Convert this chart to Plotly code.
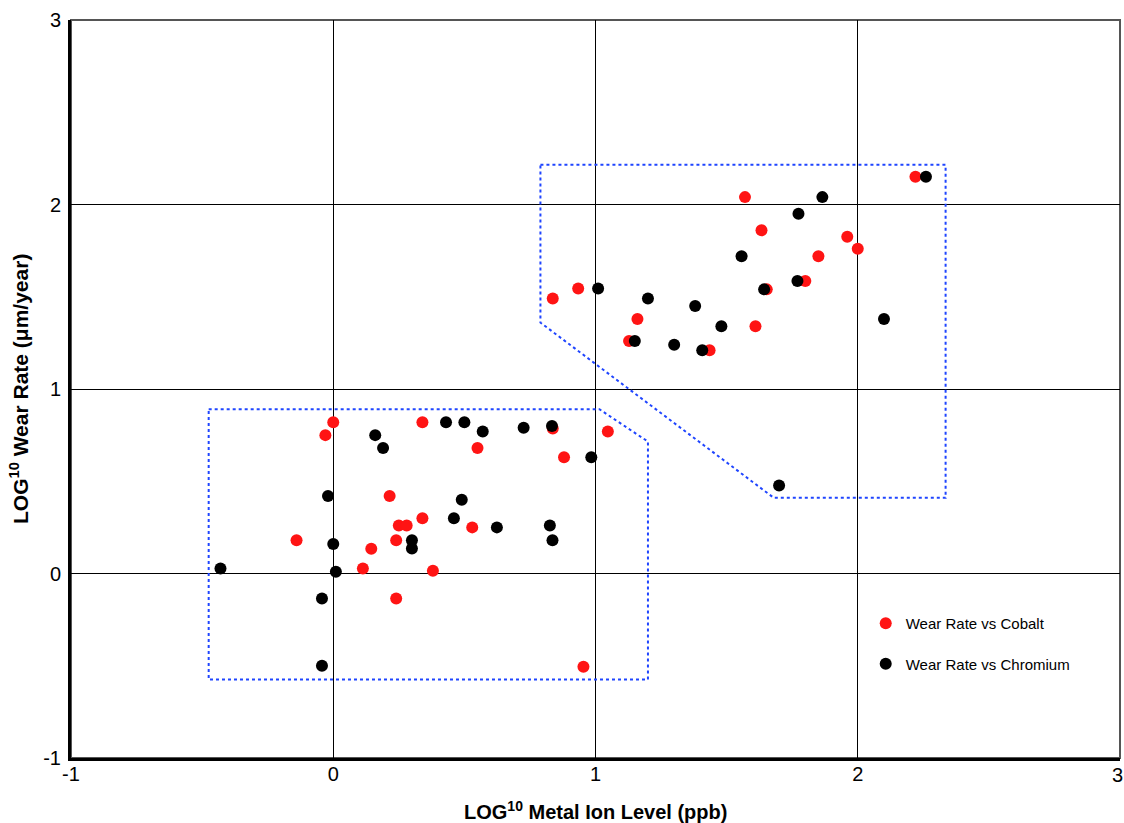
import plotly.graph_objects as go

# Wear Rate vs Cobalt (log10 metal ion level, log10 wear rate)
cobalt_x = [0.00, -0.03, 0.34, 0.55, 0.215, 0.34, 0.25, 0.28, 0.53, -0.14, 0.24, 0.145,
            0.113, 0.38, 0.24, 0.837, 1.047, 0.88, 0.954,
            2.22, 1.57, 1.633, 1.96, 2.00, 1.85, 1.80, 1.653, 0.837, 0.934, 1.16, 1.61,
            1.128, 1.435]
cobalt_y = [0.82, 0.75, 0.82, 0.68, 0.42, 0.30, 0.26, 0.26, 0.25, 0.18, 0.18, 0.134,
            0.027, 0.015, -0.135, 0.786, 0.77, 0.63, -0.506,
            2.15, 2.04, 1.86, 1.825, 1.76, 1.72, 1.585, 1.54, 1.49, 1.545, 1.38, 1.34,
            1.26, 1.21]

# Wear Rate vs Chromium
chromium_x = [0.16, 0.19, 0.43, 0.50, 0.57, -0.02, 0.49, 0.46, 0.00, 0.30, 0.30, -0.43,
              0.01, -0.043, -0.043, 0.726, 0.834, 0.984, 0.624, 0.826, 0.836,
              2.26, 1.865, 1.774, 1.557, 1.77, 1.643, 1.01, 1.20, 1.38, 1.48, 2.10, 1.15,
              1.30, 1.407, 1.70]
chromium_y = [0.75, 0.68, 0.82, 0.82, 0.77, 0.42, 0.40, 0.30, 0.16, 0.18, 0.135, 0.027,
              0.01, -0.135, -0.50, 0.79, 0.80, 0.63, 0.25, 0.26, 0.18,
              2.15, 2.04, 1.95, 1.72, 1.585, 1.54, 1.545, 1.49, 1.45, 1.34, 1.38, 1.26,
              1.24, 1.21, 0.477]

# Dashed grouping regions (data coordinates)
low_region_x = [-0.475, 1.015, 1.20, 1.20, -0.475, -0.475]
low_region_y = [0.89, 0.89, 0.715, -0.575, -0.575, 0.89]
high_region_x = [0.79, 2.335, 2.335, 1.68, 0.79, 0.79]
high_region_y = [2.215, 2.215, 0.41, 0.41, 1.36, 2.215]

x_ticks = [-1, 0, 1, 2, 3]
y_ticks = [-1, 0, 1, 2, 3]

x_title = "<b>LOG<sup>10</sup> Metal Ion Level (ppb)</b>"
y_title = "<b>LOG<sup>10</sup> Wear Rate (μm/year)</b>"

FONT = "Liberation Sans, Arial, sans-serif"

fig = go.Figure()

for rx, ry in [(low_region_x, low_region_y), (high_region_x, high_region_y)]:
    fig.add_trace(go.Scatter(x=rx, y=ry, mode="lines", showlegend=False, hoverinfo="skip",
                             line=dict(color="#1f45ff", width=2, dash="dot")))

fig.add_trace(go.Scatter(x=cobalt_x, y=cobalt_y, mode="markers", name="Wear Rate vs Cobalt",
                         legendgroup="a",
                         marker=dict(color="#ff1414", size=12, line=dict(width=0))))
fig.add_trace(go.Scatter(x=chromium_x, y=chromium_y, mode="markers", name="Wear Rate vs Chromium",
                         legendgroup="b",
                         marker=dict(color="#000000", size=12, line=dict(width=0))))

# thin grey frame (top / right)
fig.add_shape(type="rect", xref="paper", yref="paper", x0=0, y0=0, x1=1, y1=1,
              line=dict(color="#555555", width=2), layer="below")

axis_common = dict(showgrid=True, gridcolor="#000000", gridwidth=1, zeroline=False,
                   showline=True, linecolor="#000000", linewidth=3, ticks="",
                   automargin=False,
                   tickfont=dict(family=FONT, size=20, color="#000000"))

fig.update_layout(
    width=1124, height=823,
    margin=dict(l=71, r=4, t=20, b=65, autoexpand=False),
    paper_bgcolor="white", plot_bgcolor="white",
    xaxis=dict(range=[-1, 3], tickvals=x_ticks[:-1], ticktext=[str(v) for v in x_ticks[:-1]],
               ticklabelstandoff=-4, **axis_common),
    yaxis=dict(range=[-1, 3], tickvals=y_ticks, ticktext=[str(v) for v in y_ticks],
               ticklabelstandoff=3, **axis_common),
    legend=dict(x=0.7576, y=0.2046, xanchor="left", yanchor="top",
                font=dict(family=FONT, size=15, color="#000000"),
                bgcolor="rgba(0,0,0,0)", tracegroupgap=18),
    showlegend=True,
)

# last x tick label sits at the very edge of the page; draw it as text so it is not dropped
fig.add_annotation(text=str(x_ticks[-1]), xref="x", yref="paper", x=x_ticks[-1], y=0,
                   yshift=-17, xshift=-3, xanchor="center", yanchor="middle", showarrow=False,
                   font=dict(family=FONT, size=20, color="#000000"))

fig.add_annotation(text=x_title, xref="paper", yref="paper", x=0.5, y=0, yshift=-52,
                   xanchor="center", yanchor="middle", showarrow=False,
                   font=dict(family=FONT, size=20, color="#000000"))
fig.add_annotation(text=y_title, xref="paper", yref="paper", x=0, y=0.5, xshift=-52,
                   xanchor="center", yanchor="middle", showarrow=False, textangle=-90,
                   font=dict(family=FONT, size=21, color="#000000"))

fig.write_html("out.html", config={"displayModeBar": False},
               post_script="document.body.style.margin='0';document.body.style.overflow='hidden';")
